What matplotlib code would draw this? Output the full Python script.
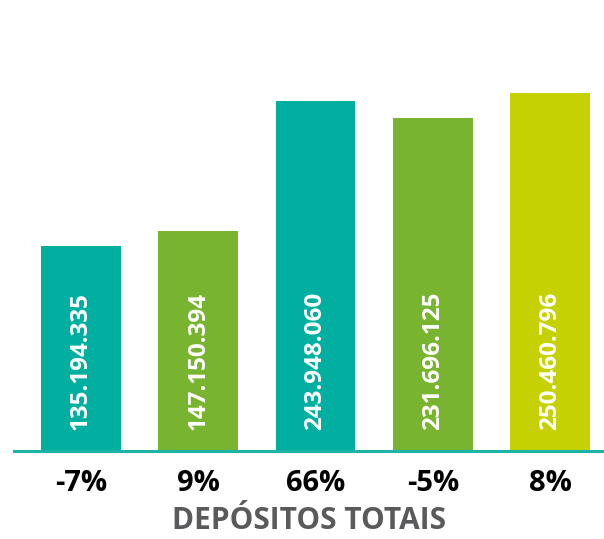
import matplotlib
matplotlib.use('Agg')
import matplotlib.pyplot as plt

# valores dos depósitos totais (R$) e variação
valores = [135194335, 147150394, 243948060, 231696125, 250460796]
variacao = ['-7%', '9%', '66%', '-5%', '8%']
cores = ['#00af9f', '#78b42f', '#00af9f', '#78b42f', '#c5d102']
titulo = 'DEPÓSITOS TOTAIS'

plt.rcParams['font.family'] = ['Open Sans', 'DejaVu Sans']

fig = plt.figure(figsize=(6.04, 5.39), dpi=100)
# axes: from x=14px to the right edge, baseline at y=451px
ax = fig.add_axes([14/604, (539-451)/539, 590/604, 451/539])

mi = [v/1e6 for v in valores]
base = -18
x = list(range(len(valores)))
ax.bar(x, [m - base for m in mi], bottom=base, width=0.68, color=cores)
ax.set_xlim(-0.571, 4.46)
ax.set_ylim(base, base + 451/1.335)

for i, v in enumerate(valores):
    txt = f'{v:,}'.replace(',', '.')
    ax.annotate(txt, xy=(i, base), xytext=(0, 15), textcoords='offset points',
                rotation=90, ha='center', va='bottom', color='white',
                fontsize=17.5, fontweight='bold')

for s in ['top', 'right', 'left']:
    ax.spines[s].set_visible(False)
ax.spines['bottom'].set_color('#1db3a6')
ax.spines['bottom'].set_linewidth(2.2)
ax.set_yticks([])
ax.set_xticks(x, variacao, fontsize=21, fontweight='bold', color='black')
ax.tick_params(axis='x', length=0, pad=13)
ax.set_xlabel(titulo, fontsize=21.5, fontweight='bold', color='#5a5a5c', labelpad=6)

fig.savefig('out.png', dpi=100)
